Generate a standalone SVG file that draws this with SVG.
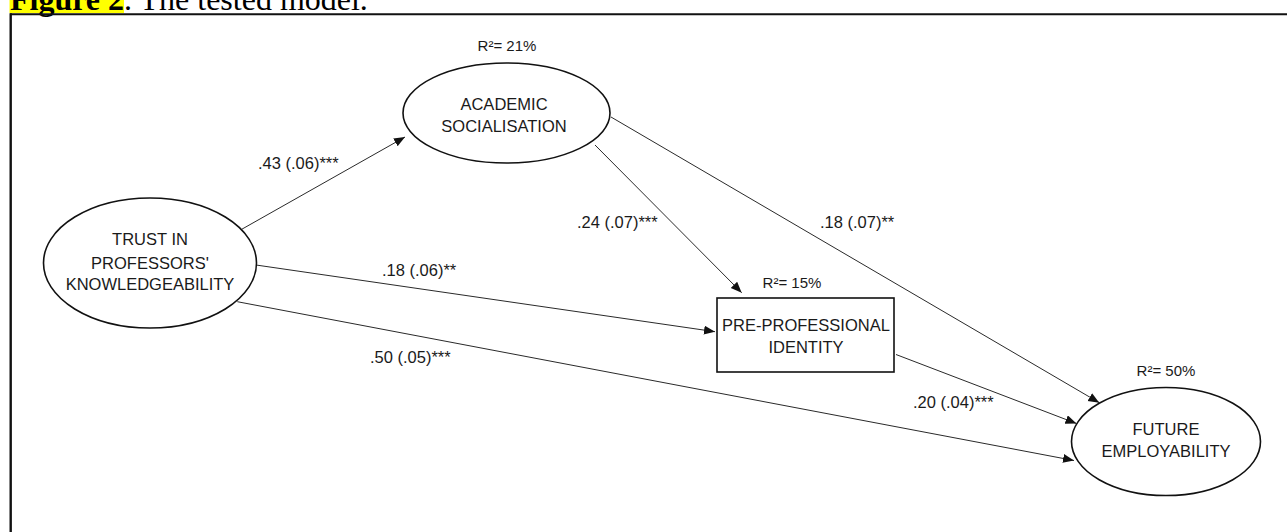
<svg xmlns="http://www.w3.org/2000/svg" width="1287" height="532" viewBox="0 0 1287 532">
<style>
.node{fill:#fff;stroke:#111;stroke-width:1.6}
.nt{font-family:"Liberation Sans",Arial,sans-serif;font-size:16.5px;fill:#1a1a1a;text-anchor:middle}
.r2{font-family:"Liberation Sans",Arial,sans-serif;font-size:15px;fill:#1a1a1a;text-anchor:middle}
.lbl{font-family:"Liberation Sans",Arial,sans-serif;font-size:16.5px;fill:#1a1a1a}
.edge{stroke:#2a2a2a;stroke-width:1;fill:none;marker-end:url(#arr)}
.title{font-family:"Liberation Serif","Times New Roman",serif;font-size:32px;fill:#000}
</style>
<defs>
<marker id="arr" markerUnits="userSpaceOnUse" markerWidth="12" markerHeight="10" refX="11" refY="4.5" orient="auto">
<path d="M0,0 L11,4.5 L0,9 z" fill="#111"/>
</marker>
</defs>
<rect width="1287" height="532" fill="#fff"/>
<g id="title">
<rect x="9.5" y="0" width="114.5" height="13" fill="#ffff00"/>
<text class="title" x="10" y="10"><tspan font-weight="bold">Figure 2</tspan>. The tested model.</text>
</g>
<g id="frame">
<line x1="10" y1="14.3" x2="1287" y2="14.3" stroke="#111" stroke-width="2"/>
<line x1="10.7" y1="13.3" x2="10.7" y2="532" stroke="#111" stroke-width="2.4"/>
</g>
<g id="connectors">
<line class="edge" x1="241.7" y1="229.3" x2="405" y2="137"/>
<line class="edge" x1="595" y1="145" x2="741.7" y2="292.7"/>
<line class="edge" x1="611" y1="117" x2="1099.3" y2="402.7"/>
<line class="edge" x1="256" y1="265" x2="715" y2="331.7"/>
<line class="edge" x1="237.3" y1="301.7" x2="1074" y2="460.5"/>
<line class="edge" x1="896" y1="354.5" x2="1076.5" y2="423.5"/>
<text class="lbl" x="258" y="169">.43 (.06)***</text>
<text class="lbl" x="577" y="228">.24 (.07)***</text>
<text class="lbl" x="820" y="228">.18 (.07)**</text>
<text class="lbl" x="382" y="276">.18 (.06)**</text>
<text class="lbl" x="370" y="363">.50 (.05)***</text>
<text class="lbl" x="913" y="408">.20 (.04)***</text>
</g>
<g id="academic">
<ellipse class="node" cx="506.5" cy="113" rx="103.5" ry="50"/>
<text class="nt" x="504" y="110">ACADEMIC</text>
<text class="nt" x="504" y="132">SOCIALISATION</text>
<text class="r2" x="507" y="51">R²= 21%</text>
</g>
<g id="trust">
<ellipse class="node" cx="150" cy="263" rx="106.5" ry="65"/>
<text class="nt" x="150" y="245">TRUST IN</text>
<text class="nt" x="150" y="269">PROFESSORS'</text>
<text class="nt" x="150" y="290">KNOWLEDGEABILITY</text>
</g>
<g id="preprof">
<rect class="node" x="717" y="298" width="177" height="74"/>
<text class="nt" x="806" y="331">PRE-PROFESSIONAL</text>
<text class="nt" x="806" y="353">IDENTITY</text>
<text class="r2" x="792" y="288">R²= 15%</text>
</g>
<g id="future">
<ellipse class="node" cx="1166" cy="441.5" rx="94.5" ry="54"/>
<text class="nt" x="1166" y="435">FUTURE</text>
<text class="nt" x="1166" y="457">EMPLOYABILITY</text>
<text class="r2" x="1166" y="376">R²= 50%</text>
</g>
</svg>
